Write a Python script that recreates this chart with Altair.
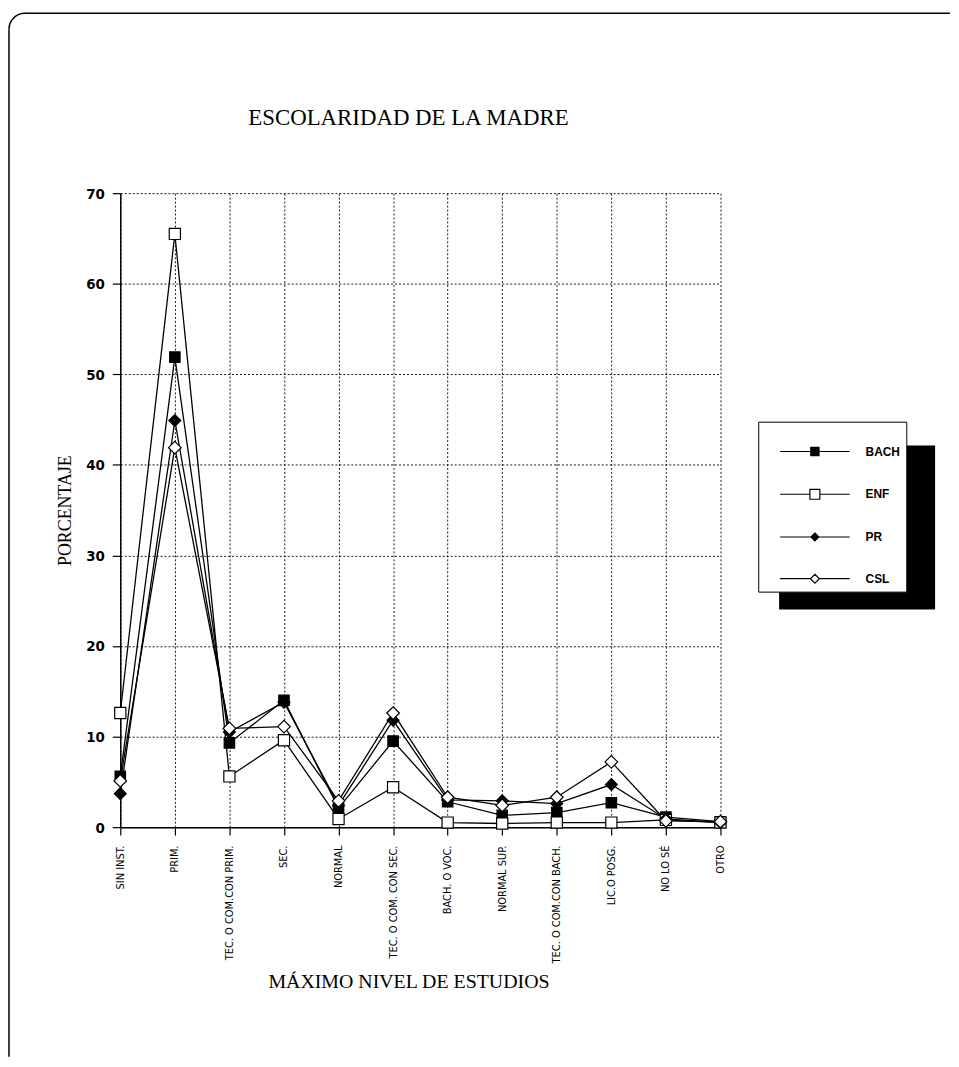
import altair as alt
import pandas as pd

categories = ["SIN INST.", "PRIM.", "TEC. O COM.CON PRIM.", "SEC.", "NORMAL",
              "TEC. O COM. CON SEC.", "BACH. O VOC.", "NORMAL SUP.",
              "TEC. O COM.CON BACH.", "LIC.O POSG.", "NO LO SÉ", "OTRO"]
series_names = ["BACH", "ENF", "PR", "CSL"]
bach = [5.6, 51.9, 9.3, 14.0, 2.1, 9.5, 2.8, 1.3, 1.6, 2.7, 1.1, 0.6]
enf = [12.6, 65.5, 5.6, 9.6, 0.9, 4.4, 0.5, 0.4, 0.5, 0.5, 0.8, 0.5]
pr = [3.7, 44.9, 10.5, 13.8, 2.4, 11.8, 3.0, 2.9, 2.6, 4.7, 0.9, 0.5]
csl = [5.1, 41.9, 10.9, 11.1, 2.9, 12.6, 3.3, 2.4, 3.3, 7.2, 0.7, 0.6]
y_ticks = [0, 10, 20, 30, 40, 50, 60, 70]
chart_title = "ESCOLARIDAD DE LA MADRE"

series_fill = ["black", "white", "black", "white"]
series_stroke = ["black", "black", "black", "black"]
point_shapes = ["square", "square", "diamond", "diamond"]
point_sizes = [110, 160, 90, 110]
legend_paths = [
    "M-7,0H-0.83M0.83,0H7M-0.83,-0.83H0.83V0.83H-0.83Z",
    "M-7,0H-1M1,0H7M-1,-1H1V1H-1Z",
    "M-7,0H-0.8M0.8,0H7M0,-0.8L0.8,0L0,0.8L-0.8,0Z",
    "M-7,0H-0.9M0.9,0H7M0,-0.9L0.9,0L0,0.9L-0.9,0Z",
]

rows = []
for name, vals in zip(series_names, [bach, enf, pr, csl]):
    for i, (c, v) in enumerate(zip(categories, vals)):
        rows.append({"nivel": c, "serie": name, "pct": v, "orden": i})
df = pd.DataFrame(rows)

SERIF = "Liberation Serif"
NARROW = "Liberation Sans Narrow, DejaVu Sans Condensed, Arial, sans-serif"

x_enc = alt.X("nivel:N", sort=categories,
              scale=alt.Scale(type="point", padding=0),
              axis=alt.Axis(title="MÁXIMO NIVEL DE ESTUDIOS", labelAngle=270,
                            labelFont=NARROW, labelFontSize=11, labelPadding=10,
                            tickSize=8, grid=True, titleFont=SERIF, titleFontSize=20,
                            titleFontWeight="normal", titleX=290, titleY=161,
                            titleAlign="center", titleBaseline="alphabetic",
                            labelLimit=300))
y_enc = alt.Y("pct:Q", scale=alt.Scale(domain=[0, 70]),
              axis=alt.Axis(title="PORCENTAJE", values=y_ticks, labelFont=NARROW,
                            labelFontSize=15, labelFontWeight="bold", labelPadding=8,
                            tickSize=8, titleFont=SERIF, titleFontSize=18,
                            titleFontWeight="normal", titleAngle=270, titleX=-50,
                            titleY=319, titleAlign="center",
                            titleBaseline="alphabetic"))

base = alt.Chart(df)

lines = base.mark_line(color="black", strokeWidth=1.3).encode(
    x=x_enc, y=y_enc, detail="serie:N", order="orden:Q")

points = base.mark_point(filled=True, stroke="black", strokeWidth=1.2, opacity=1).encode(
    x=x_enc, y=y_enc,
    shape=alt.Shape("serie:N", scale=alt.Scale(domain=series_names, range=point_shapes), legend=None),
    fill=alt.Fill("serie:N", scale=alt.Scale(domain=series_names, range=series_fill), legend=None),
    size=alt.Size("serie:N", scale=alt.Scale(domain=series_names, range=point_sizes), legend=None),
)

leg_kwargs = dict(title=" ", orient="none", legendX=642, legendY=230,
                  fillColor="white", strokeColor="black", padding=6,
                  symbolOffset=45, labelOffset=45, rowPadding=28,
                  labelFont="Liberation Sans, Arial, sans-serif", labelFontSize=12,
                  labelFontWeight="bold", labelColor="black",
                  labelExpr="datum.label + '  '",
                  symbolStrokeColor="black", symbolStrokeWidth=1.2,
                  titleFontSize=10, titlePadding=8)

legend_layer = base.mark_point(filled=True, strokeWidth=1.2,
                               size=144, opacity=1).encode(
    x=x_enc, y=y_enc,
    shape=alt.Shape("serie:N", scale=alt.Scale(domain=series_names, range=legend_paths),
                    legend=alt.Legend(**leg_kwargs)),
    fill=alt.Fill("serie:N", scale=alt.Scale(domain=series_names, range=series_fill),
                  legend=alt.Legend(**leg_kwargs)),
    stroke=alt.Stroke("serie:N", scale=alt.Scale(domain=series_names, range=series_stroke),
                      legend=alt.Legend(**leg_kwargs)),
).transform_filter("false")

one = alt.Data(values=[{"k": 1}])
# page frame: top edge, left edge and rounded top-left corner
frame_top = alt.Chart(one).mark_rule(color="black", strokeWidth=1.5).encode(
    x=alt.value(-96), x2=alt.value(835), y=alt.value(-181))
frame_left = alt.Chart(one).mark_rule(color="black", strokeWidth=1.5).encode(
    x=alt.value(-112), y=alt.value(-165), y2=alt.value(869))
frame_corner = alt.Chart(one).mark_arc(color="black").encode(
    x=alt.value(-96), y=alt.value(-165), theta=alt.value(4.712), theta2=alt.value(6.2832),
    radius=alt.value(16.75), radius2=alt.value(15.25))
shadow = alt.Chart(one).mark_rect(fill="black").encode(
    x=alt.value(663), x2=alt.value(820), y=alt.value(254), y2=alt.value(419))
title_text = alt.Chart(alt.Data(values=[{"t": chart_title}])).mark_text(
    font=SERIF, fontSize=23, color="black", align="center", baseline="alphabetic"
).encode(text="t:N", x=alt.value(290), y=alt.value(-69))

chart = alt.layer(frame_top, frame_left, frame_corner, shadow, title_text,
                  lines, points, legend_layer).resolve_scale(
    shape="independent", fill="independent", size="independent", stroke="independent"
).properties(
    width=604, height=638,
    padding={"left": 0, "top": 1, "right": 0, "bottom": 0},
).configure_view(stroke=None).configure_axis(
    domainColor="black", domainWidth=1.5, tickColor="black", tickWidth=1.2,
    labelColor="black", titleColor="black",
    gridColor="black", gridDash=[2, 2], gridWidth=1, gridOpacity=0.9,
)

chart.save("out.html", embed_options={"renderer": "svg", "actions": False})
